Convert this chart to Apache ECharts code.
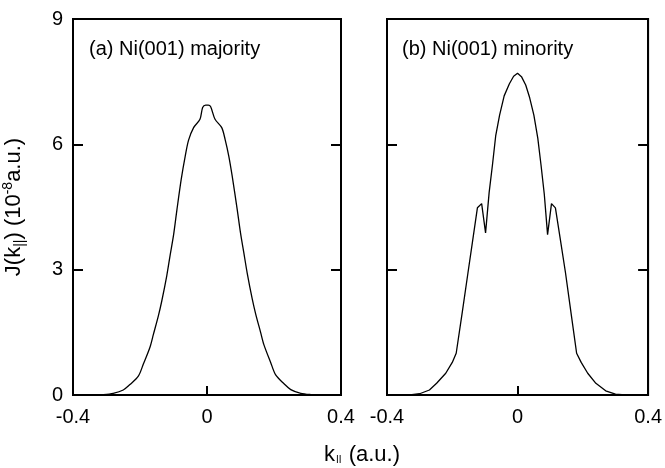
<!DOCTYPE html>
<html>
<head>
<meta charset="utf-8">
<script src="https://cdn.jsdelivr.net/npm/echarts@6/dist/echarts.min.js"></script>
<style>html,body{margin:0;padding:0;background:#fff;}#c{width:665px;height:468px;}</style>
</head>
<body>
<div id="c"></div>
<script>
// x ticks and y ticks
var xTicks = [-0.4, 0, 0.4];
var yTicks = [0, 3, 6, 9];
var panelTitles = ['(a) Ni(001) majority', '(b) Ni(001) minority'];

// (a) majority
var majX = [-0.40, -0.34, -0.31, -0.28, -0.25, -0.23, -0.205, -0.19, -0.17, -0.16, -0.145, -0.135, -0.12, -0.11, -0.10, -0.09, -0.077, -0.065, -0.055, -0.04, -0.021, -0.013, -0.004, 0.004, 0.011, 0.024, 0.044, 0.054, 0.065, 0.075, 0.09, 0.10, 0.11, 0.12, 0.135, 0.145, 0.16, 0.17, 0.19, 0.205, 0.23, 0.25, 0.28, 0.31, 0.34, 0.40];
var majY = [0, 0, 0.01, 0.04, 0.12, 0.25, 0.45, 0.74, 1.15, 1.45, 1.9, 2.25, 2.86, 3.35, 3.82, 4.42, 5.16, 5.72, 6.1, 6.4, 6.6, 6.88, 6.94, 6.94, 6.90, 6.6, 6.40, 6.12, 5.72, 5.25, 4.45, 3.88, 3.4, 2.92, 2.3, 1.95, 1.5, 1.2, 0.78, 0.48, 0.27, 0.13, 0.04, 0.01, 0, 0];

// (b) minority
var minX = [-0.40, -0.33, -0.30, -0.27, -0.248, -0.22, -0.20, -0.188, -0.17, -0.152, -0.138, -0.123, -0.110, -0.098, -0.087, -0.077, -0.067, -0.055, -0.041, -0.025, -0.012, 0, 0.012, 0.025, 0.037, 0.05, 0.062, 0.072, 0.082, 0.092, 0.104, 0.116, 0.13, 0.147, 0.165, 0.181, 0.195, 0.215, 0.24, 0.27, 0.30, 0.33, 0.40];
var minY = [0, 0, 0.03, 0.12, 0.28, 0.52, 0.78, 1.0, 1.95, 2.92, 3.67, 4.48, 4.58, 3.88, 4.85, 5.5, 6.2, 6.7, 7.16, 7.45, 7.63, 7.70, 7.62, 7.42, 7.12, 6.7, 6.15, 5.5, 4.8, 3.84, 4.58, 4.48, 3.78, 2.92, 1.9, 1.0, 0.78, 0.52, 0.28, 0.1, 0.02, 0, 0];

function zip(a, b) { return a.map(function (v, i) { return [v, b[i]]; }); }

var FONT = '"Liberation Sans", Arial, Helvetica, sans-serif';
var chart = echarts.init(document.getElementById('c'), null, {renderer: 'canvas'});

var grids = [
  {left: 73, top: 19, width: 268, height: 376},
  {left: 387, top: 19, width: 264, height: 376}
];
grids.forEach(function (g) {
  g.show = true; g.borderColor = '#000'; g.borderWidth = 2; g.backgroundColor = 'transparent';
  g.containLabel = false;
});

function xAxisFor(i) {
  return {
    type: 'value', gridIndex: i, min: xTicks[0], max: xTicks[xTicks.length - 1], interval: 0.4,
    axisLine: {show: true, onZero: false, lineStyle: {color: '#000', width: 2}},
    axisTick: {show: true, inside: true, length: 9, lineStyle: {color: '#000', width: 2}},
    axisLabel: {color: '#000', fontSize: 20, fontFamily: FONT, margin: 12,
      formatter: function (v) { return String(Math.round(v * 10) / 10); }},
    splitLine: {show: false}
  };
}
function yAxisFor(i, pos, labels) {
  return {
    type: 'value', gridIndex: i, position: pos, min: yTicks[0], max: yTicks[yTicks.length - 1], interval: 3,
    axisLine: {show: true, onZero: false, lineStyle: {color: '#000', width: 2}},
    axisTick: {show: true, inside: true, length: 10, lineStyle: {color: '#000', width: 2}},
    axisLabel: {show: labels, color: '#000', fontSize: 20, fontFamily: FONT, margin: 10},
    splitLine: {show: false}
  };
}

var yAxes = [yAxisFor(0, 'left', true), yAxisFor(0, 'right', false), yAxisFor(1, 'left', false), yAxisFor(1, 'right', false)];
yAxes[0].name = '{n|J(k}{s|||}{n|) (10}{p|-8}{n|a.u.)}';
yAxes[0].nameLocation = 'middle';
yAxes[0].nameRotate = 90;
yAxes[0].nameGap = 46;
yAxes[0].nameTextStyle = {
  color: '#000', fontFamily: FONT,
  rich: {
    n: {fontSize: 22, fontFamily: FONT, color: '#000', lineHeight: 26, verticalAlign: 'middle'},
    s: {fontSize: 14, fontFamily: FONT, color: '#000', padding: [12, 0, 0, 0], verticalAlign: 'middle'},
    p: {fontSize: 14, fontFamily: FONT, color: '#000', padding: [0, 0, 12, 0], verticalAlign: 'middle'}
  }
};

var option = {
  animation: false,
  backgroundColor: '#fff',
  grid: grids,
  xAxis: [xAxisFor(0), xAxisFor(1)],
  yAxis: yAxes,
  series: [
    {type: 'line', xAxisIndex: 0, yAxisIndex: 0, data: zip(majX, majY), showSymbol: false, symbol: 'none',
      smooth: 0.3, lineStyle: {color: '#000', width: 1.3}, z: 3},
    {type: 'line', xAxisIndex: 1, yAxisIndex: 2, data: zip(minX, minY), showSymbol: false, symbol: 'none',
      lineStyle: {color: '#000', width: 1.3}, z: 3}
  ],
  graphic: [
    {type: 'text', left: 89, top: 39, style: {text: panelTitles[0], fill: '#000', fontSize: 20, fontFamily: FONT}},
    {type: 'text', left: 402, top: 39, style: {text: panelTitles[1], fill: '#000', fontSize: 20, fontFamily: FONT}},
    {type: 'text', left: 324, top: 444, style: {
      text: '{n|k}{s|II}{n| (a.u.)}', fill: '#000', fontFamily: FONT,
      rich: {
        n: {fontSize: 22, fontFamily: FONT, fill: '#000', verticalAlign: 'bottom'},
        s: {fontSize: 10, fontFamily: FONT, fill: '#000', verticalAlign: 'bottom', padding: [0, 1, 1, 1]}
      }
    }}
  ]
};
chart.setOption(option);
</script>
</body>
</html>
